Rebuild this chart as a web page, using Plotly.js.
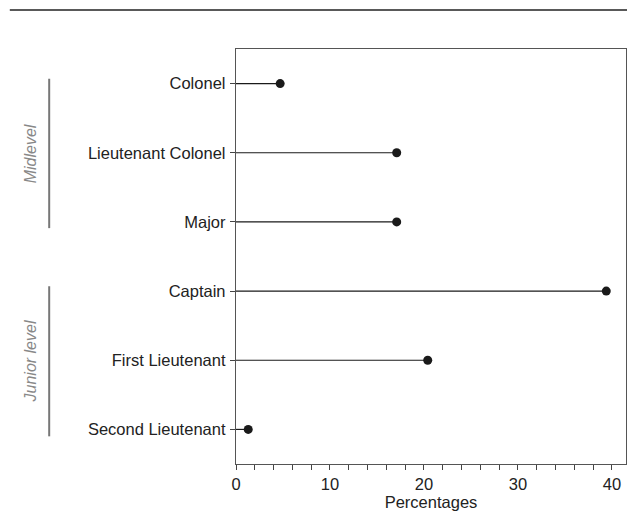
<!DOCTYPE html>
<html><head><meta charset="utf-8">
<script src="https://cdn.plot.ly/plotly-3.0.1.min.js"></script>
<style>body{margin:0;padding:0;background:#fff}#chart{width:627px;height:529px}</style>
</head><body><div id="chart"></div>
<script>
const ranks = ["Second Lieutenant","First Lieutenant","Captain","Major","Lieutenant Colonel","Colonel"];
const percentages = [1.3, 20.4, 39.4, 17.1, 17.1, 4.7];
const groups = ["Junior level","Midlevel"];

const stemX = [], stemY = [];
ranks.forEach((r,i)=>{ stemX.push(0, percentages[i], null); stemY.push(r, r, null); });

const traces = [
  {x: stemX, y: stemY, type:'scatter', mode:'lines', line:{color:'#1a1a1a', width:1.2}, hoverinfo:'skip', showlegend:false},
  {x: percentages, y: ranks, type:'scatter', mode:'markers', marker:{color:'#1a1a1a', size:9}, showlegend:false}
];

const layout = {
  width:627, height:529,
  margin:{l:236, r:1, t:49, b:65},
  paper_bgcolor:'#fff', plot_bgcolor:'#fff',
  font:{family:'"Liberation Sans", Arial, sans-serif', size:16.5, color:'#222'},
  xaxis:{range:[0,41.5], tickvals:[0,10,20,30,40], ticks:'outside', ticklen:5, tickcolor:'#444',
         minor:{dtick:2, ticks:'outside', ticklen:5, tickcolor:'#444'},
         showgrid:false, zeroline:false, showline:true, linecolor:'#555', linewidth:1.2, mirror:true,
         title:{text:'Percentages', standoff:0, font:{size:16.5}}, tickfont:{size:16.5}},
  yaxis:{type:'category', categoryorder:'array', categoryarray:ranks, range:[-0.5,5.5],
         ticks:'outside', ticklen:5, tickcolor:'#444', showgrid:false, zeroline:false,
         showline:true, linecolor:'#555', linewidth:1.2, mirror:true, tickfont:{size:16.5}, ticklabelstandoff:1},
  shapes:[
    {type:'line', xref:'paper', yref:'paper', x0:-0.58, x1:1.003, y0:1.094, y1:1.094, line:{color:'#222', width:1.5}},
    {type:'line', xref:'paper', yref:'y', x0:-0.479, x1:-0.479, y0:5.07, y1:2.91, line:{color:'#777', width:2}},
    {type:'line', xref:'paper', yref:'y', x0:-0.479, x1:-0.479, y0:2.07, y1:-0.1, line:{color:'#777', width:2}}
  ],
  annotations:[
    {xref:'paper', yref:'y', x:-0.553, y:3.99, text:'<i>'+groups[1]+'</i>', textangle:-90, showarrow:false, font:{size:16, color:'#888'}},
    {xref:'paper', yref:'y', x:-0.553, y:0.98, text:'<i>'+groups[0]+'</i>', textangle:-90, showarrow:false, font:{size:16, color:'#888'}}
  ]
};
Plotly.newPlot('chart', traces, layout, {displayModeBar:false, staticPlot:true});
</script></body></html>
